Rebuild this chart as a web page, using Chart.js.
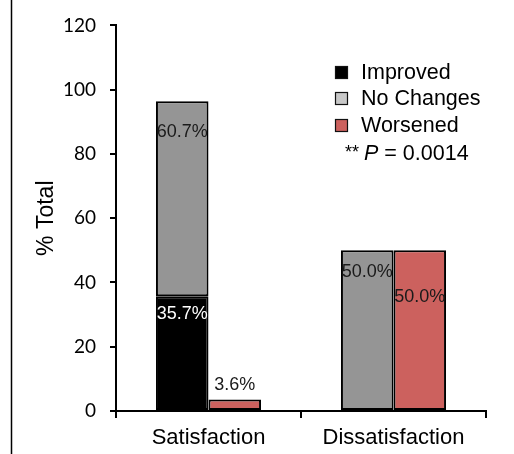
<!DOCTYPE html>
<html><head><meta charset="utf-8">
<script src="https://cdn.jsdelivr.net/npm/chart.js@4/dist/chart.umd.min.js"></script>
<style>html,body{margin:0;padding:0;background:#fff;overflow:hidden}canvas{display:block}</style>
</head><body><canvas id="c" width="514" height="454"></canvas>
<script>
const categories = ['Satisfaction', 'Dissatisfaction'];
const improved = [35.7, null];
const noChanges = [60.7, 50.0];
const worsened = [3.6, 50.0];
const yTicks = [0, 20, 40, 60, 80, 100, 120];
const seriesNames = ['Improved', 'No Changes', 'Worsened'];
const pValue = '0.0014';

const barColors = ['#000000', '#959595', '#cc615e'];
const legendColors = ['#000000', '#c8c8c8', '#cc615e'];
// label styling per dataset: [colour, y offsets from bar top per category]
const labelStyle = [
  { color: '#ffffff', off: [18, 18] },
  { color: '#1a1a1a', off: [31, 22] },
  { color: '#1a1a1a', off: [-14, 47] }
];
const SANS = '"Liberation Sans", Arial, sans-serif';

const decor = {
  id: 'decor',
  afterDraw(chart) {
    const ctx = chart.ctx;
    ctx.save();
    // left frame line
    ctx.strokeStyle = '#000'; ctx.lineWidth = 1.5;
    ctx.beginPath(); ctx.moveTo(11.5, 0); ctx.lineTo(11.5, 454); ctx.stroke();

    // data labels
    ctx.font = '18px ' + SANS;
    ctx.textAlign = 'center'; ctx.textBaseline = 'middle';
    chart.data.datasets.forEach((ds, di) => {
      const meta = chart.getDatasetMeta(di);
      meta.data.forEach((el, i) => {
        const v = ds.data[i];
        if (v === null || v === undefined) return;
        const top = Math.min(el.y, el.base);
        ctx.fillStyle = labelStyle[di].color;
        ctx.fillText(v.toFixed(1) + '%', el.x, top + labelStyle[di].off[i]);
      });
    });

    // legend
    const lx = 335, rows = [72, 98, 125];
    ctx.textAlign = 'left'; ctx.textBaseline = 'middle';
    ctx.font = '21.5px ' + SANS;
    seriesNames.forEach((n, k) => {
      ctx.fillStyle = legendColors[k];
      ctx.fillRect(lx, rows[k] - 6, 13, 13);
      ctx.strokeStyle = '#111'; ctx.lineWidth = 1.2;
      ctx.strokeRect(lx + 0.5, rows[k] - 5.5, 12, 12);
      ctx.fillStyle = '#000';
      ctx.fillText(n, 361, rows[k] + 1);
    });
    // p-value line
    let x = 345; const py = 153;
    ctx.font = '18px ' + SANS;
    ctx.fillText('**', x, py); x += ctx.measureText('** ').width;
    ctx.font = 'italic 21.5px ' + SANS;
    ctx.fillText('P', x, py + 1); x += ctx.measureText('P').width;
    ctx.font = '21.5px ' + SANS;
    ctx.fillText(' = ' + pValue, x, py + 1);
    ctx.restore();
  }
};

new Chart(document.getElementById('c'), {
  type: 'bar',
  data: {
    labels: categories,
    datasets: [
      { label: seriesNames[0], data: improved, backgroundColor: barColors[0], stack: 'a' },
      { label: seriesNames[1], data: noChanges, backgroundColor: barColors[1], stack: 'a' },
      { label: seriesNames[2], data: worsened, backgroundColor: barColors[2], stack: 'b' }
    ]
  },
  options: {
    responsive: false, animation: false, devicePixelRatio: 1,
    layout: { padding: { left: 0, right: 28, top: 21, bottom: 0 } },
    datasets: { bar: { borderColor: '#000', borderWidth: 2, borderSkipped: false,
      categoryPercentage: 0.568, barPercentage: 1 } },
    plugins: { legend: { display: false }, tooltip: { enabled: false } },
    scales: {
      x: {
        stacked: true,
        grid: { display: true, drawOnChartArea: false, offset: true, tickLength: 7, color: '#000', lineWidth: 2 },
        border: { color: '#000', width: 2 },
        ticks: { color: '#000', font: { family: SANS, size: 22 }, padding: 7 },
        afterFit(s) { s.height = 43; }
      },
      y: {
        stacked: true, min: 0, max: 120,
        afterBuildTicks(s) { s.ticks = yTicks.map(v => ({ value: v })); },
        grid: { drawOnChartArea: false, tickLength: 6, color: '#000', lineWidth: 2 },
        border: { color: '#000', width: 2 },
        ticks: { color: '#000', font: { family: 'Lato, sans-serif', size: 19 }, padding: 14 },
        title: { display: true, text: '% Total', color: '#000',
          font: { family: SANS, size: 23 }, padding: { top: 33, bottom: 0 } },
        afterFit(s) { s.width = 116; }
      }
    }
  },
  plugins: [decor]
});
</script>
</body></html>
